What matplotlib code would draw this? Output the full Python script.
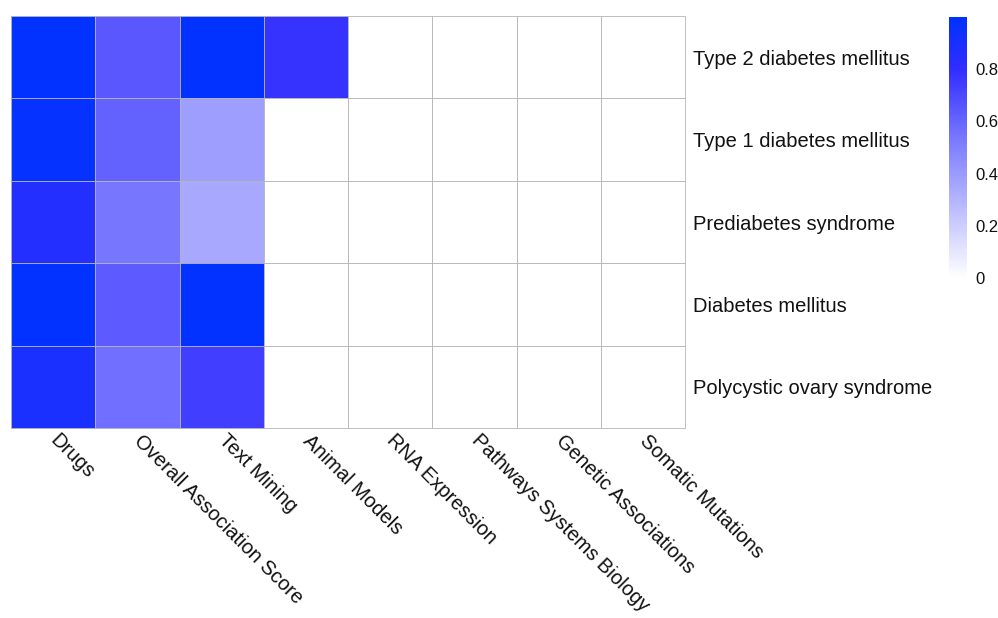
import numpy as np
import matplotlib.pyplot as plt
from matplotlib.colors import LinearSegmentedColormap

plt.rcParams['font.family'] = ['Liberation Sans', 'DejaVu Sans']

# Association scores per disease (rows) and evidence type (columns)
diseases = ["Type 2 diabetes mellitus", "Type 1 diabetes mellitus",
            "Prediabetes syndrome", "Diabetes mellitus",
            "Polycystic ovary syndrome"]
evidence = ["Drugs", "Overall Association Score", "Text Mining",
            "Animal Models", "RNA Expression", "Pathways Systems Biology",
            "Genetic Associations", "Somatic Mutations"]
drugs = [0.99, 0.98, 0.86, 0.99, 0.90]
overall = [0.65, 0.61, 0.54, 0.64, 0.57]
text_mining = [0.99, 0.39, 0.35, 0.99, 0.74]
animal_models = [0.78, 0, 0, 0, 0]
rna_expression = [0, 0, 0, 0, 0]
pathways = [0, 0, 0, 0, 0]
genetic = [0, 0, 0, 0, 0]
somatic = [0, 0, 0, 0, 0]
cbar_ticks = [0, 0.2, 0.4, 0.6, 0.8]

scores = np.column_stack([drugs, overall, text_mining, animal_models,
                          rna_expression, pathways, genetic, somatic])

cmap = LinearSegmentedColormap.from_list(
    "wb", [(0.0, "#FFFFFF"), (0.5, "#8282FF"), (0.8, "#322DFF"),
           (1.0, "#0032FF")])
vmin, vmax = 0, 1.0

fig = plt.figure(figsize=(9.98, 6.18), dpi=100)
ax = fig.add_axes([11 / 998, 1 - 428 / 618, 674 / 998, 412 / 618])
mesh = ax.pcolormesh(scores, cmap=cmap, vmin=vmin, vmax=vmax,
                     edgecolors="#B4B4B4", linewidth=0.6, antialiased=True)
mesh.set_clip_on(False)  # keep the outer cell borders
ax.set_xlim(0, len(evidence))
ax.set_ylim(len(diseases), 0)
for s in ax.spines.values():
    s.set_visible(False)

ax.yaxis.tick_right()
ax.set_yticks(np.arange(len(diseases)) + 0.5)
ax.set_yticklabels(diseases, fontsize=14.5, color="#111111")
ax.set_xticks(np.arange(len(evidence)) + 0.5)
ax.set_xticklabels(evidence, fontsize=14.5, color="#111111", rotation=-45,
                   ha="left", va="center", rotation_mode="anchor")
ax.tick_params(length=0, pad=6)
ax.tick_params(axis="x", pad=7)

# colour legend
cax = fig.add_axes([949 / 998, 1 - 278 / 618, 18 / 998, 261 / 618])
grad = np.linspace(vmin, vmax, 256).reshape(-1, 1)
cax.imshow(grad, cmap=cmap, vmin=vmin, vmax=vmax, aspect="auto",
           origin="lower", extent=[0, 1, vmin, vmax])
cax.set_xticks([])
cax.yaxis.tick_right()
cax.set_yticks(cbar_ticks)
cax.set_yticklabels(["0", "0.2", "0.4", "0.6", "0.8"], fontsize=12,
                    color="#111111")
cax.tick_params(length=0, pad=6)
for s in cax.spines.values():
    s.set_visible(False)

fig.savefig("out.png", dpi=100, facecolor="white")
